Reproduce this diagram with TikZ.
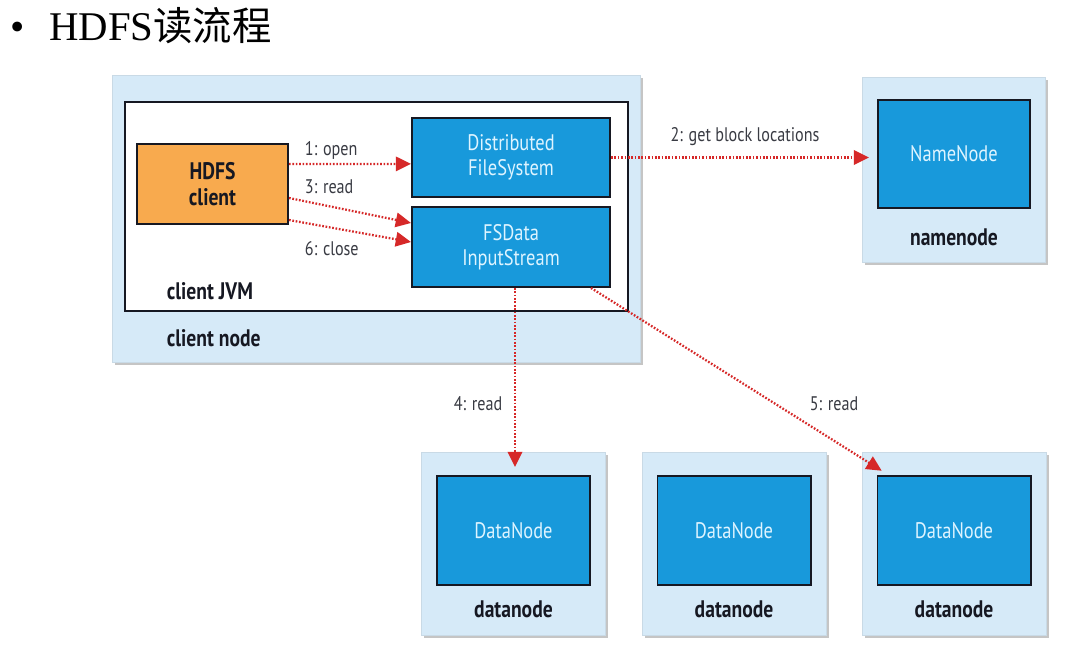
\documentclass[tikz,border=0pt]{standalone}
\usepackage{fontspec}
\setmainfont{Liberation Serif}
\newfontfamily\cjkfont{Noto Sans CJK SC}
\newfontfamily\diagfont[FakeStretch=0.82]{PT Sans}
\usetikzlibrary{arrows.meta,positioning,shadows}
\definecolor{hostblue}{RGB}{214,234,248}
\definecolor{procblue}{RGB}{24,153,219}
\definecolor{clientorange}{RGB}{248,170,78}
\definecolor{flowred}{RGB}{214,40,40}
\definecolor{boxtext}{RGB}{222,244,255}
\definecolor{inkdark}{RGB}{22,24,34}

\begin{document}
\begin{tikzpicture}[
    x=0.025cm, y=-0.025cm,
    host/.style={rectangle,fill=hostblue,draw=hostblue!85!gray,
      drop shadow={shadow xshift=2pt,shadow yshift=-2pt,opacity=0.45}},
    proc/.style={rectangle,fill=procblue,draw=inkdark,line width=1.4pt,
      text=boxtext,align=center,font=\diagfont\fontsize{16}{18}\selectfont},
    hostlabel/.style={text=inkdark,font=\diagfont\bfseries\fontsize{17}{19}\selectfont},
    flowlabel/.style={text=inkdark!85,font=\diagfont\fontsize{14}{16}\selectfont},
    flow/.style={flowred,line width=1.6pt,dash pattern=on 1.2pt off 1.2pt,
      -{Triangle[length=0.38cm,width=0.36cm]}}
  ]
    \useasboundingbox[fill=white] (0,0) rectangle (1067,651);

    % title
    \node[anchor=base west,font=\fontsize{29}{32}\selectfont] (title) at (6,40)
      {\textbullet\hspace{0.6cm}HDFS{\cjkfont\fontsize{28}{32}\selectfont 读流程}};

    % client side
    \node[host,minimum width=13.2cm,minimum height=7.175cm] (clienthost) at (376,218.5) {};
    \node[rectangle,fill=white,draw=inkdark,line width=1.4pt,
      minimum width=12.575cm,minimum height=5.225cm] (jvm) at (376.5,206.5) {};
    \node[rectangle,fill=clientorange,draw=inkdark,line width=1.4pt,align=center,
      minimum width=3.775cm,minimum height=2cm,text=inkdark,
      font=\diagfont\bfseries\fontsize{17}{19}\selectfont] (client) at (212.5,184) {HDFS\\client};
    \node[proc,minimum width=4.95cm,minimum height=1.975cm] (dfs) at (511,157.5) {Distributed\\FileSystem};
    \node[proc,minimum width=4.95cm,minimum height=2cm] (fsdata) at (511,247) {FSData\\InputStream};
    \node[hostlabel,anchor=west] (jvmlabel) at (162,291) {client JVM};
    \node[hostlabel,anchor=west] (hostlabel) at (162,338) {client node};

    % namenode
    \node[host,minimum width=4.575cm,minimum height=4.625cm] (nnhost) at (953.5,169.5) {};
    \node[proc,minimum width=3.8cm,minimum height=2.7cm] (nn) at (954,154) {NameNode};
    \node[hostlabel] (nnlabel) at (954,237) {namenode};

    % datanodes
    \foreach \i/\x in {1/513.5,2/734,3/954} {
      \node[host,minimum width=4.6cm,minimum height=4.575cm] (dnhost\i) at (\x,543.5) {};
      \node[proc,minimum width=3.825cm,minimum height=2.725cm] (dn\i) at (\x,530.5) {DataNode};
      \node[hostlabel] (dnlabel\i) at (\x,609) {datanode};
    }

    % calls
    \draw[flow] ([yshift=0.5cm]client.east) -- ([yshift=-0.16cm]dfs.west);
    \draw[flow] ([yshift=-0.35cm]client.east) -- ([yshift=0.6cm]fsdata.west);
    \draw[flow] ([yshift=-0.9cm]client.east) -- ([yshift=0.125cm]fsdata.west);
    \draw[flow,shorten >=0.2cm] (dfs.east) -- (dfs.east -| nn.west);
    \draw[flow,shorten >=0.2cm] ([xshift=0.1cm]fsdata.south) -- ([xshift=0.1cm]fsdata.south |- dn1.north);
    \draw[flow,shorten >=0.2cm] ([xshift=-0.5cm]fsdata.south east) -- ([xshift=0.3cm]dn3.north west);

    \node[flowlabel,anchor=west] (openlabel) at (300,150) {1: open};
    \node[flowlabel,anchor=west] (readlabel) at (300,187) {3: read};
    \node[flowlabel,anchor=west] (closelabel) at (300,249) {6: close};
    \node[flowlabel] (locslabel) at (745,137) {2: get block locations};
    \node[flowlabel] (dnreadlabel) at (478,404) {4: read};
    \node[flowlabel] (dnreadlabel2) at (834,404) {5: read};
\end{tikzpicture}
\end{document}
